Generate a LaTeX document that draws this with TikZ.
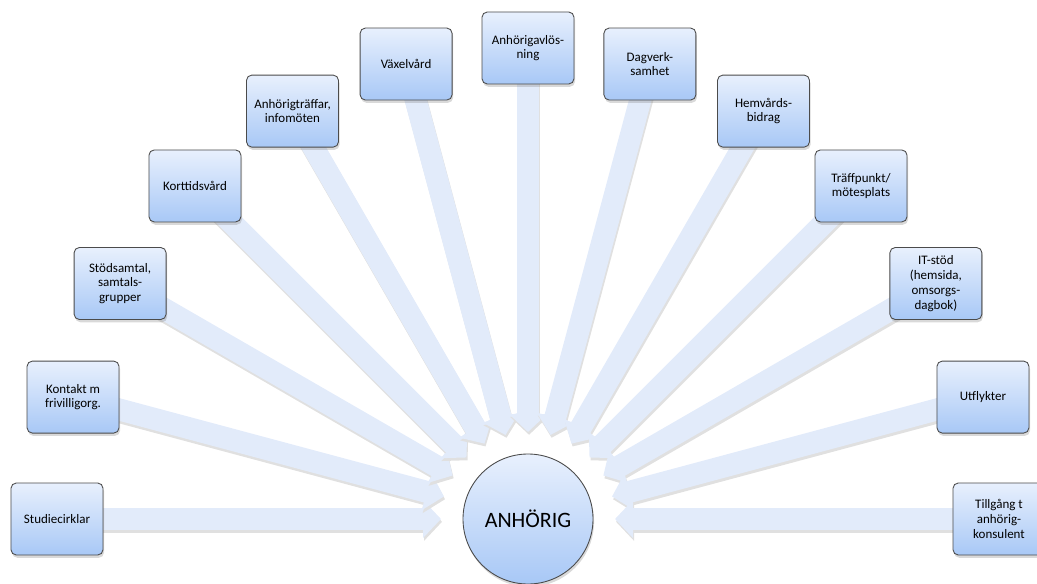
\documentclass[tikz,border=0pt]{standalone}
\usepackage{fontspec}
\setmainfont{Carlito}
\usetikzlibrary{arrows.meta, shadows, backgrounds}
\definecolor{cBoxTop}{RGB}{232,240,253}
\definecolor{cBoxBot}{RGB}{168,200,246}
\definecolor{cArrow}{RGB}{226,235,250}
\definecolor{cEdge}{RGB}{75,75,75}
\tikzset{
	topic/.style   ={rectangle, rounded corners=3pt, minimum width=1.84cm, minimum height=1.44cm, align=center, draw=cEdge, line width=0.5pt, top color=cBoxTop, bottom color=cBoxBot, drop shadow={opacity=0.3, shadow xshift=0.6pt, shadow yshift=-1.6pt}, font=\fontsize{7.4}{8.4}\selectfont},
	hub/.style     ={circle, minimum size=2.6cm, draw=cEdge, line width=0.5pt, top color=cBoxTop, bottom color=cBoxBot, drop shadow={opacity=0.3, shadow xshift=0.6pt, shadow yshift=-1.6pt}, font=\fontsize{12.5}{14}\selectfont},
	fatarrow/.style={line width=0.44cm, draw=cArrow, -{Triangle[width=0.74cm, length=0.36cm]}},
	fatshadow/.style={line width=0.44cm, draw=black!12, -{Triangle[width=0.74cm, length=0.36cm]}, transform canvas={xshift=0.6pt, yshift=-1.6pt}},
}
\begin{document}
\begin{tikzpicture}
	\useasboundingbox (-10.56,-1.28) rectangle (10.18,10.38);
	\node[hub] (hub) at (0,0) {ANHÖRIG};
	\foreach \a/\txt [count=\i] in {180/Studiecirklar, 165/{Kontakt m\\frivilligorg.}, 150/{Stödsamtal,\\samtals-\\grupper}, 135/Korttidsvård, 120/{Anhörigträffar,\\infomöten}, 105/Växelvård, 90/{Anhörigavlös-\\ning}, 75/{Dagverk-\\samhet}, 60/{Hemvårds-\\bidrag}, 45/{Träffpunkt/\\mötesplats}, 30/{IT-stöd\\(hemsida,\\omsorgs-\\dagbok)}, 15/Utflykter, 0/{Tillgång t\\anhörig-\\konsulent}} {
		\node[topic] (b\i) at (\a:9.42) {\txt};
		\coordinate (t\i) at (\a:1.74);
		\begin{scope}[on background layer]
			\draw[fatshadow] (b\i.center) -- (t\i);
			\draw[fatarrow] (b\i.center) -- (t\i);
		\end{scope}
	}
\end{tikzpicture}
\end{document}
